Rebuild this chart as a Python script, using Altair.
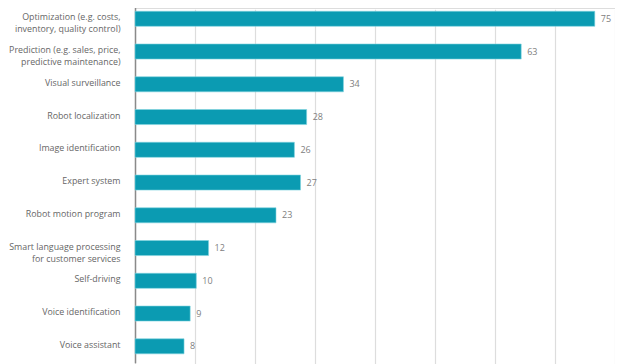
import altair as alt
import pandas as pd

categories = [
    "Optimization (e.g. costs,|inventory, quality control)",
    "Prediction (e.g. sales, price,|predictive maintenance)",
    "Visual surveillance",
    "Robot localization",
    "Image identification",
    "Expert system",
    "Robot motion program",
    "Smart language processing|for customer services",
    "Self-driving",
    "Voice identification",
    "Voice assistant",
]
values = [75, 63, 34, 28, 26, 27, 23, 12, 10, 9, 8]

x_max = 78.3
grid_vals = [round(i * x_max / 8, 4) for i in range(9)]

df = pd.DataFrame({"cat": categories, "val": values})

W, H = 480, 356
x_scale = alt.Scale(domain=[0, x_max], range=[0, W], nice=False, zero=True)
y_scale = alt.Scale(domain=categories, range=[-5.6, 354.7], paddingInner=0.54, paddingOuter=0.27)

base = alt.Chart(df).encode(
    y=alt.Y("cat:N", sort=None, scale=y_scale,
            axis=alt.Axis(title=None, ticks=False, domain=True, domainColor="#8a8a8a",
                          domainWidth=1.5, labelExpr="split(datum.label, '|')",
                          labelFont="Open Sans", labelFontSize=8.85, labelColor="#666666",
                          labelBaseline="top", labelOffset=-5.5, labelLineHeight=12,
                          labelPadding=15, labelAlign="right", grid=False, labelLimit=200)),
)

bars = base.mark_bar(color="#0b9bb2", stroke="#7fd3df", strokeWidth=0.6).encode(
    x=alt.X("val:Q", scale=x_scale,
            axis=alt.Axis(title=None, values=grid_vals, labels=False, ticks=False, domain=False,
                          grid=True, gridColor="#dddddd", gridWidth=1.2)),
)

labels = base.mark_text(align="left", baseline="middle", dx=6, font="Open Sans",
                        fontSize=9, color="#808080").encode(
    x=alt.X("val:Q", scale=x_scale),
    text=alt.Text("val:Q"),
)

chart = (bars + labels).properties(
    width=W, height=H,
    autosize=alt.AutoSizeParams(type="none"),
    padding={"left": 127, "top": 0, "right": 0, "bottom": 0},
).configure_view(stroke=None).configure(background="white")

chart.save("out.html", embed_options={"renderer": "svg", "actions": False})
